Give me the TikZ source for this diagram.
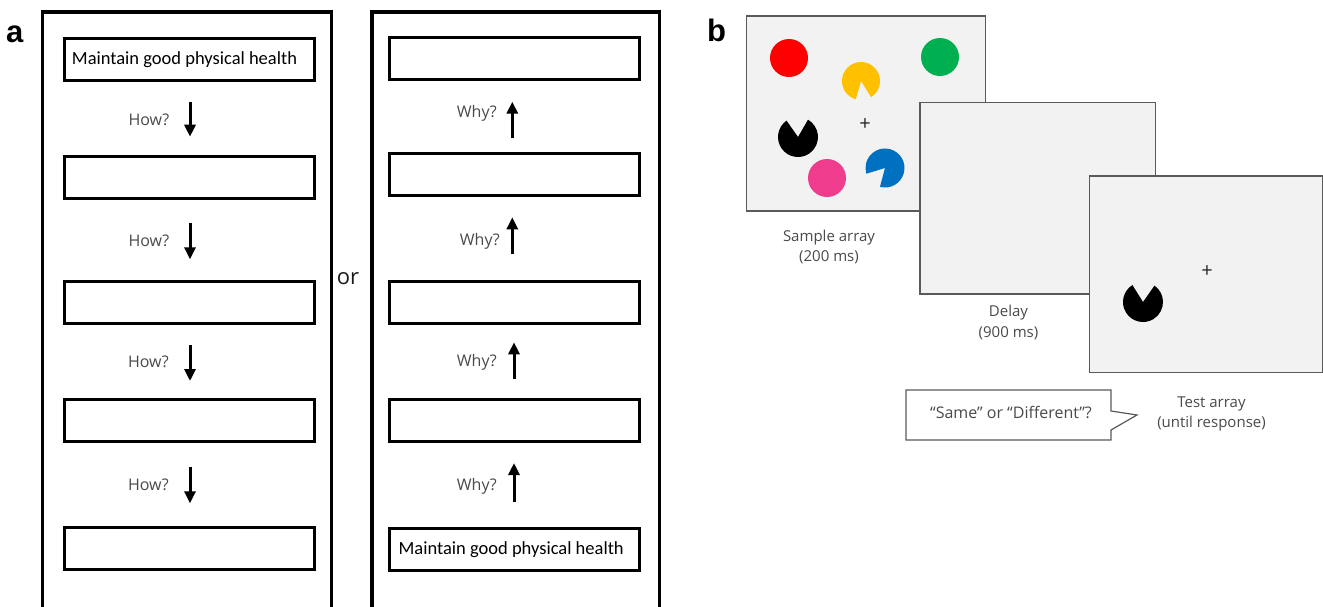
\documentclass[tikz,border=0pt]{standalone}
\usepackage{fontspec}
\setmainfont{Open Sans}
\newfontfamily\calfont{Carlito}
\newfontfamily\arialfont{Liberation Sans}
\usetikzlibrary{arrows.meta}
\definecolor{labelgray}{HTML}{4A4A4A}
\definecolor{screenfill}{HTML}{F2F2F2}
\definecolor{screenedge}{HTML}{5A5A5A}
\definecolor{dotred}{HTML}{FF0000}
\definecolor{dotgreen}{HTML}{00B050}
\definecolor{dotyellow}{HTML}{FFC000}
\definecolor{dotblue}{HTML}{0070C0}
\definecolor{dotpink}{HTML}{F03C8C}
\begin{document}
\begin{tikzpicture}[x=1pt,y=1pt,
  frameline/.style={line width=3.5pt, line join=miter},
  goalbox/.style={draw, line width=3pt, minimum width=250pt, minimum height=42pt, inner sep=0pt,
    font=\calfont\fontsize{18.5}{20}\selectfont},
  flowarrow/.style={line width=3pt, -{Triangle[width=11pt,length=12pt]}},
  qlabel/.style={anchor=east, inner sep=0pt, text=labelgray, font=\fontsize{16}{18}\selectfont},
  panelletter/.style={anchor=base west, inner sep=0pt, font=\arialfont\bfseries\fontsize{31}{31}\selectfont},
  screen/.style={draw=screenedge, fill=screenfill, line width=1.3pt, inner sep=0pt},
  caption/.style={align=center, inner sep=0pt, text=labelgray, font=\fontsize{15}{20.5}\selectfont},
  fixation/.style={inner sep=0pt, text=black!85, font=\fontsize{20}{20}\selectfont},
]
\useasboundingbox (0,0) rectangle (1323,-606);
\clip (0,0) rectangle (1323,-606);
\fill[white] (0,0) rectangle (1323,-606);

% ---------- panel a ----------
\node[panelletter] (la) at (6,-42) {a};
\draw[frameline] (42.5,-630) -- (42.5,-12) -- (331.5,-12) -- (331.5,-630);
\draw[frameline] (372,-630) -- (372,-12) -- (659.5,-12) -- (659.5,-630);

\node[goalbox] (L1) at (189.5,-59.3) {\kern-10pt Maintain good physical health};
\node[goalbox] (L2) at (189.5,-177.8) {};
\node[goalbox] (L3) at (189.5,-302.9) {};
\node[goalbox] (L4) at (189.5,-420.8) {};
\node[goalbox] (L5) at (189.5,-548) {};

\node[goalbox] (R1) at (514.7,-58.8) {};
\node[goalbox] (R2) at (514.7,-174.3) {};
\node[goalbox] (R3) at (514.7,-302.2) {};
\node[goalbox] (R4) at (514.7,-420.5) {};
\node[goalbox] (R5) at (514.7,-549.3) {\kern-7pt Maintain good physical health};

\coordinate (a1s) at (190,-101.7); \coordinate (a1e) at (190,-136.7);
\coordinate (a2s) at (190,-222.7); \coordinate (a2e) at (190,-259.3);
\coordinate (a3s) at (190,-345);   \coordinate (a3e) at (190,-381);
\coordinate (a4s) at (190,-466.7); \coordinate (a4e) at (190,-503.3);
\draw[flowarrow] (a1s) -- (a1e);
\draw[flowarrow] (a2s) -- (a2e);
\draw[flowarrow] (a3s) -- (a3e);
\draw[flowarrow] (a4s) -- (a4e);
\node[qlabel] (h1) at (169.5,-119.5) {How?};
\node[qlabel] (h2) at (169.5,-241) {How?};
\node[qlabel] (h3) at (169,-362.3) {How?};
\node[qlabel] (h4) at (169,-485) {How?};

\coordinate (b1s) at (512.3,-138.3); \coordinate (b1e) at (512.3,-101.7);
\coordinate (b2s) at (512.3,-254);   \coordinate (b2e) at (512.3,-217.3);
\coordinate (b3s) at (514,-379.3);   \coordinate (b3e) at (514,-342.3);
\coordinate (b4s) at (514,-501.7);   \coordinate (b4e) at (514,-463);
\draw[flowarrow] (b1s) -- (b1e);
\draw[flowarrow] (b2s) -- (b2e);
\draw[flowarrow] (b3s) -- (b3e);
\draw[flowarrow] (b4s) -- (b4e);
\node[qlabel] (w1) at (497,-113.5) {Why?};
\node[qlabel] (w2) at (500,-241.7) {Why?};
\node[qlabel] (w3) at (497,-362.7) {Why?};
\node[qlabel] (w4) at (497,-486) {Why?};

\node[inner sep=0pt, text=black!90, font=\fontsize{22}{22}\selectfont] (or) at (348,-278.5) {or};

% ---------- panel b ----------
\node[panelletter] (lb) at (707,-41.5) {b};

\node[screen, minimum width=239pt, minimum height=195pt] (sample) at (866.2,-113.5) {};
\fill[dotred] (789,-58) circle[radius=19pt];
\fill[dotgreen] (940,-57) circle[radius=19pt];
\fill[dotpink] (827,-178) circle[radius=19pt];
\fill[dotyellow] (861,-81) -- ++(302:19pt) arc[start angle=302, end angle=614, radius=19pt] -- cycle;
\fill[black] (798,-137) -- ++(125:20pt) arc[start angle=125, end angle=420, radius=20pt] -- cycle;
\fill[dotblue] (885,-168) -- ++(255:19.5pt) arc[start angle=255, end angle=557, radius=19.5pt] -- cycle;
\node[fixation] (fix1) at (865,-125) {+};
\node[caption] (samplecap) at (829,-246.8) {Sample array\\(200 ms)};

\node[screen, minimum width=235.7pt, minimum height=191.7pt] (delay) at (1037.85,-198.15) {};
\node[caption] (delaycap) at (1008.5,-322.5) {Delay\\(900 ms)};

\node[screen, minimum width=233.4pt, minimum height=196.7pt] (test) at (1206,-274.35) {};
\fill[black] (1143,-302) -- ++(122:20pt) arc[start angle=122, end angle=415, radius=20pt] -- cycle;
\node[fixation] (fix2) at (1207,-272) {+};
\node[caption] (testcap) at (1211.5,-414) {Test array\\(until response)};

\draw[draw=screenedge, fill=white, line width=1.2pt, line join=miter]
  (906,-390) -- (1111,-390) -- (1111,-411) -- (1137,-415) -- (1111,-430) -- (1111,-440) -- (906,-440) -- cycle;
\node[caption, font=\fontsize{16}{20}\selectfont] (answer) at (1011,-412) {“Same” or “Different”?};
\end{tikzpicture}
\end{document}
